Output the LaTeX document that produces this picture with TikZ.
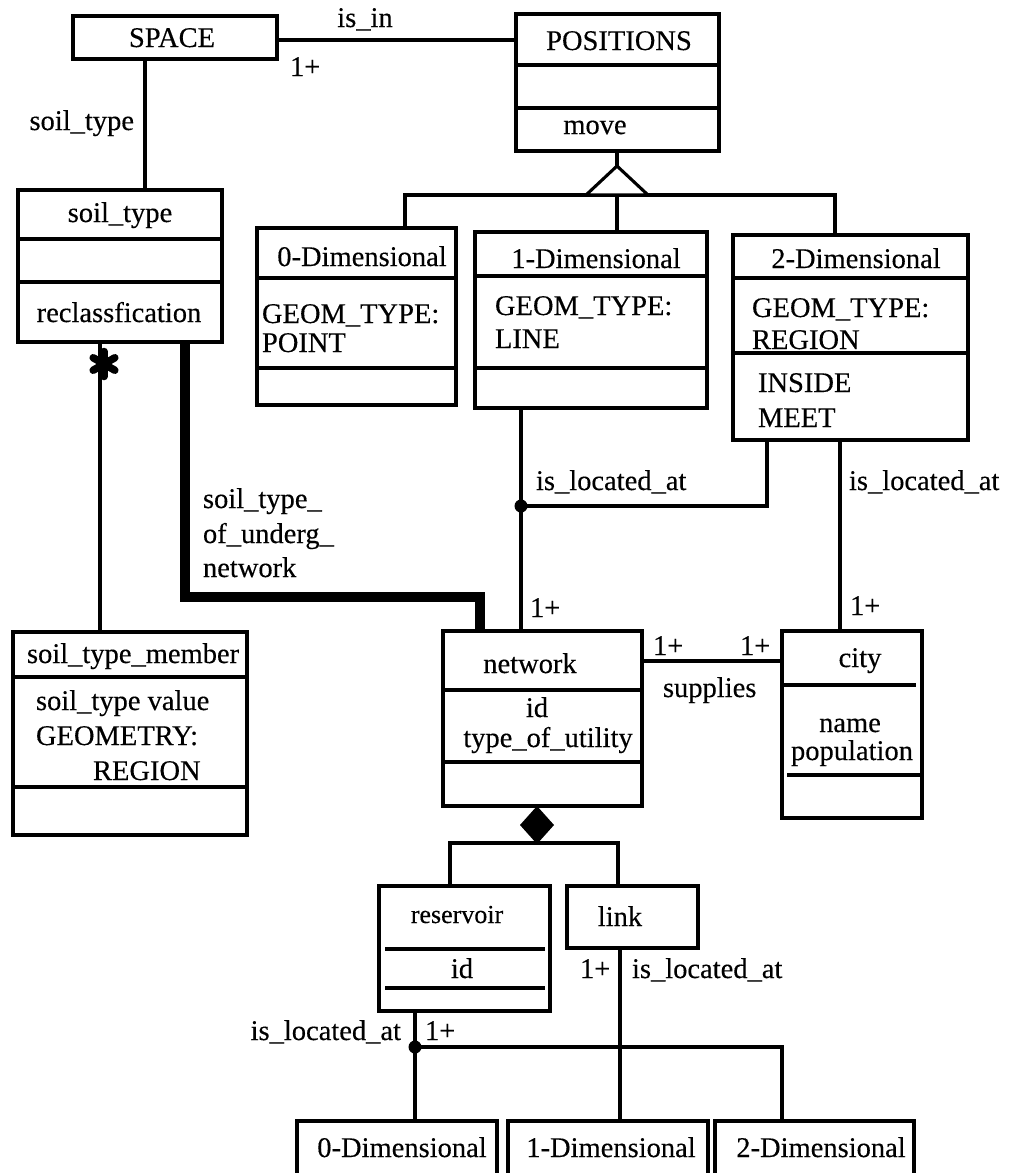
\documentclass[tikz,border=0pt]{standalone}
\usepackage{fontspec}
\setmainfont{Liberation Serif}[UprightFeatures={FakeBold=0.3}]
\usetikzlibrary{fit}
\newcommand\dfont{\fontsize{28.5}{32}\selectfont}
\newcommand\sfont{\fontsize{26}{30}\selectfont}
\newcommand\hdiv[2]{\draw[ln] (#1.west |- 0,#2) -- (#1.east |- 0,#2);}
\begin{document}
\begin{tikzpicture}[x=1pt,y=-1pt,
  cls/.style={draw, line width=3.1pt, inner sep=0pt, outer sep=0pt},
  ln/.style={line width=3.1pt},
  heavy/.style={line width=9.5pt},
  tx/.style={inner sep=0pt, outer sep=0pt, font=\dfont},
  stx/.style={inner sep=0pt, outer sep=0pt, font=\sfont},
  dot/.style={circle, fill, inner sep=0pt, minimum size=13pt}]
\useasboundingbox (0,0) rectangle (1019,1173);
\clip (0,0) rectangle (1019,1173);

% ---------- class boxes ----------
\node[cls, fit={(73,16) (277,59)}] (space) {};
\node[cls, fit={(516,14) (719,151)}] (positions) {};
\hdiv{positions}{65}\hdiv{positions}{108}
\node[cls, fit={(18,190) (222,342)}] (soiltype) {};
\hdiv{soiltype}{239}\hdiv{soiltype}{282}
\node[cls, fit={(257,228) (456,405)}] (zeroD) {};
\hdiv{zeroD}{278}\hdiv{zeroD}{368}
\node[cls, fit={(475,232) (707,408)}] (oneD) {};
\hdiv{oneD}{276}\hdiv{oneD}{368}
\node[cls, fit={(733,235) (968,440)}] (twoD) {};
\hdiv{twoD}{278}\hdiv{twoD}{353}
\node[cls, fit={(13,632) (247,835)}] (stm) {};
\hdiv{stm}{677}\hdiv{stm}{787}
\node[cls, fit={(443,631) (642,806)}] (network) {};
\hdiv{network}{690}\hdiv{network}{762}
\node[cls, fit={(782,631) (922,818)}] (city) {};
\draw[ln] (city.west |- 0,685) -- (916,685);
\draw[ln] (787,775) -- (city.east |- 0,775);
\node[cls, fit={(379,886) (550,1011)}] (reservoir) {};
\draw[ln] (385,949) -- (545,949);
\draw[ln] (385,988) -- (545,988);
\node[cls, fit={(567,886) (698,948)}] (link) {};
\node[cls, fit={(297,1121) (497,1190)}] (bzero) {};
\node[cls, fit={(508,1121) (708,1190)}] (bone) {};
\node[cls, fit={(715,1121) (914,1190)}] (btwo) {};

% ---------- connectors ----------
% is_in
\draw[ln] (space.east |- 0,40) -- (positions.west |- 0,40);
% SPACE - soil_type
\draw[ln] (space.south -| 145,0) -- (soiltype.north -| 145,0);
% generalization
\coordinate (apex) at (617,166);
\draw[ln] (positions.south -| apex) -- (apex);
\draw[ln] (zeroD.north -| 405,0) -- (405,195) -- (835,195) -- (twoD.north -| 835,0);
\draw[ln] (oneD.north -| 617,0) -- (617,195);
\draw[ln, fill=white, line join=miter] (apex) -- ++(31,29) -- ++(-62,0) -- cycle;
% 1-D -- network, 2-D -- junction
\node[dot] (j1) at (521,506) {};
\draw[ln] (oneD.south -| j1) -- (network.north -| j1);
\draw[ln] (j1.center) -| (twoD.south -| 767,0);
% 2-D -- city
\draw[ln] (twoD.south -| 840,0) -- (city.north -| 840,0);
% supplies
\draw[ln] (network.east |- 0,661) -- (city.west |- 0,661);
% soil_type -- soil_type_member (many)
\draw[ln] (soiltype.south -| 100,0) -- (stm.north -| 100,0);
\coordinate (ast) at (104,364);
\foreach \a in {90,30,-30}
  \draw[line width=7.5pt, line cap=round] (ast) ++(\a:12.5pt) -- ++(\a+180:25pt);
% thick association
\draw[heavy] (soiltype.south -| 185,0) -- (185,597) -- (480,597) -- (network.north -| 480,0);
% composition
\coordinate (dtop) at (network.south -| 537,0);
\fill (dtop) -- ++(17,19) -- ++(-17,19) coordinate (dbot) -- ++(-17,-19) -- cycle;
\draw[ln] (reservoir.north -| 450,0) -- (450,843) -- (618,843) -- (link.north -| 618,0);
% reservoir / link -- bottom positions
\node[dot] (j2) at (415,1047) {};
\draw[ln] (reservoir.south -| j2) -- (bzero.north -| j2);
\draw[ln] (j2.center) -| (btwo.north -| 782,0);
\draw[ln] (link.south -| 620,0) -- (bone.north -| 620,0);

% ---------- texts ----------
\node[tx, anchor=base] (tspace) at (172,47) {SPACE};
\node[tx, anchor=base] (tisin) at (365,27) {is\_in};
\node[tx, anchor=base west] (tm1) at (290,76) {1+};
\node[tx, anchor=base east] (tsoilrel) at (134,130) {soil\_type};
\node[tx, anchor=base] (tpos) at (619,50) {POSITIONS};
\node[tx, anchor=base] (tmove) at (595,134) {move};
\node[tx, anchor=base] (tsoil) at (120,222) {soil\_type};
\node[tx, anchor=base] (trecl) at (119,322) {reclassfication};
\node[tx, anchor=base] (tz) at (362,266) {0-Dimensional};
\node[tx, anchor=base west] (tz1) at (262,323) {GEOM\_TYPE:};
\node[tx, anchor=base west] (tz2) at (262,352) {POINT};
\node[tx, anchor=base] (to) at (596,268) {1-Dimensional};
\node[tx, anchor=base west] (to1) at (495,315) {GEOM\_TYPE:};
\node[tx, anchor=base west] (to2) at (495,348) {LINE};
\node[tx, anchor=base] (tt) at (856,268) {2-Dimensional};
\node[tx, anchor=base west] (tt1) at (752,317) {GEOM\_TYPE:};
\node[tx, anchor=base west] (tt2) at (752,349) {REGION};
\node[tx, anchor=base west] (tt3) at (758,392) {INSIDE};
\node[tx, anchor=base west] (tt4) at (758,427) {MEET};
\node[tx, anchor=base west] (tstm) at (27,663) {soil\_type\_member};
\node[tx, anchor=base west] (tstm1) at (36,710) {soil\_type value};
\node[tx, anchor=base west] (tstm2) at (36,745) {GEOMETRY:};
\node[tx, anchor=base west] (tstm3) at (93,780) {REGION};
\node[tx, anchor=base west] (tun1) at (203,508) {soil\_type\_};
\node[tx, anchor=base west] (tun2) at (203,543) {of\_underg\_};
\node[tx, anchor=base west] (tun3) at (203,577) {network};
\node[tx, anchor=base west] (tloc1) at (536,490) {is\_located\_at};
\node[tx, anchor=base west] (tm2) at (530,617) {1+};
\node[tx, anchor=base west] (tloc2) at (849,490) {is\_located\_at};
\node[tx, anchor=base west] (tm3) at (850,615) {1+};
\node[tx, anchor=base] (tnet) at (530,673) {network};
\node[tx, anchor=base] (tnet1) at (537,717) {id};
\node[tx, anchor=base] (tnet2) at (548,747) {type\_of\_utility};
\node[tx, anchor=base west] (tm4) at (653,655) {1+};
\node[tx, anchor=base west] (tm5) at (740,655) {1+};
\node[tx, anchor=base west] (tsup) at (663,697) {supplies};
\node[tx, anchor=base] (tcity) at (860,667) {city};
\node[tx, anchor=base] (tcity1) at (850,732) {name};
\node[tx, anchor=base] (tcity2) at (852,760) {population};
\node[stx, anchor=base] (tres) at (457,923) {reservoir};
\node[tx, anchor=base] (tres1) at (462,978) {id};
\node[tx, anchor=base] (tlink) at (620,926) {link};
\node[tx, anchor=base west] (tm6) at (580,978) {1+};
\node[tx, anchor=base west] (tloc3) at (632,978) {is\_located\_at};
\node[tx, anchor=base east] (tloc4) at (401,1040) {is\_located\_at};
\node[tx, anchor=base west] (tm7) at (425,1040) {1+};
\node[tx, anchor=base] (tb0) at (402,1157) {0-Dimensional};
\node[tx, anchor=base] (tb1) at (611,1157) {1-Dimensional};
\node[tx, anchor=base] (tb2) at (821,1157) {2-Dimensional};
\end{tikzpicture}
\end{document}
